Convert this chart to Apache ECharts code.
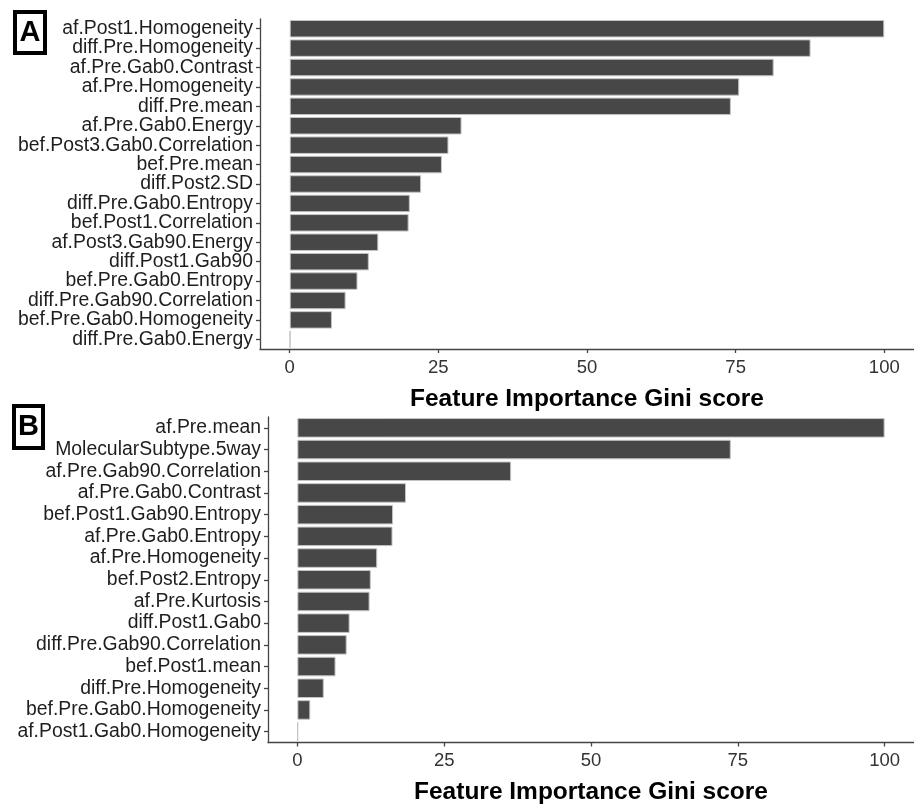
<!DOCTYPE html>
<html>
<head>
<meta charset="utf-8">
<script src="https://cdn.jsdelivr.net/npm/echarts@6/dist/echarts.min.js"></script>
<style>
html,body{margin:0;padding:0;background:#fff;}
#chart{width:914px;height:806px;}
</style>
</head>
<body>
<div id="chart"></div>
<script>
var categoriesA = ["af.Post1.Homogeneity","diff.Pre.Homogeneity","af.Pre.Gab0.Contrast","af.Pre.Homogeneity","diff.Pre.mean","af.Pre.Gab0.Energy","bef.Post3.Gab0.Correlation","bef.Pre.mean","diff.Post2.SD","diff.Pre.Gab0.Entropy","bef.Post1.Correlation","af.Post3.Gab90.Energy","diff.Post1.Gab90","bef.Pre.Gab0.Entropy","diff.Pre.Gab90.Correlation","bef.Pre.Gab0.Homogeneity","diff.Pre.Gab0.Energy"];
var valuesA = [100, 87.6, 81.4, 75.6, 74.2, 28.9, 26.7, 25.6, 22.1, 20.2, 20.0, 14.9, 13.3, 11.4, 9.4, 7.1, 0.1];
var categoriesB = ["af.Pre.mean","MolecularSubtype.5way","af.Pre.Gab90.Correlation","af.Pre.Gab0.Contrast","bef.Post1.Gab90.Entropy","af.Pre.Gab0.Entropy","af.Pre.Homogeneity","bef.Post2.Entropy","af.Pre.Kurtosis","diff.Post1.Gab0","diff.Pre.Gab90.Correlation","bef.Post1.mean","diff.Pre.Homogeneity","bef.Pre.Gab0.Homogeneity","af.Post1.Gab0.Homogeneity"];
var valuesB = [100, 73.8, 36.4, 18.5, 16.3, 16.2, 13.6, 12.5, 12.3, 8.9, 8.4, 6.5, 4.5, 2.2, 0.1];
var xTicks = [0, 25, 50, 75, 100];
var xTitle = "Feature Importance Gini score";

var font = "Liberation Sans, Arial, Helvetica, sans-serif";
var axisCol = "#444";

function xAxisDef(gi) {
  return {
    type: "value", gridIndex: gi, min: -5, max: 105,
    name: xTitle, nameLocation: "middle", nameGap: 50,
    nameTextStyle: {fontFamily: font, fontSize: 24.5, fontWeight: "bold", color: "#000", verticalAlign: "middle"},
    axisLine: {show: true, onZero: false, lineStyle: {color: axisCol, width: 1.3}},
    axisTick: {show: true, length: 4, customValues: xTicks, lineStyle: {color: axisCol, width: 1.3}},
    axisLabel: {customValues: xTicks, fontFamily: font, fontSize: 18.5, color: "#333", margin: 9},
    splitLine: {show: false}
  };
}
function yAxisDef(gi, cats) {
  return {
    type: "category", gridIndex: gi, data: cats, inverse: true,
    axisLine: {show: true, onZero: false, lineStyle: {color: axisCol, width: 1.3}},
    axisTick: {show: true, length: 4, alignWithLabel: true, lineStyle: {color: axisCol, width: 1.3}},
    axisLabel: {fontFamily: font, fontSize: 19.4, color: "#1e1e1e", margin: 7, interval: 0},
    splitLine: {show: false}
  };
}
function barSeries(gi, vals) {
  return {
    type: "bar", xAxisIndex: gi, yAxisIndex: gi, data: vals, barWidth: "90%",
    itemStyle: {color: "#474747", borderColor: "#c4c4c4", borderWidth: 1},
    silent: true, animation: false
  };
}

var chart = echarts.init(document.getElementById("chart"), null, {renderer: "canvas"});
chart.setOption({
  backgroundColor: "#fff",
  animation: false,
  grid: [
    {left: 260, top: 19, width: 658, height: 330},
    {left: 268, top: 417, width: 648, height: 331}
  ],
  xAxis: [xAxisDef(0), xAxisDef(1)],
  yAxis: [yAxisDef(0, categoriesA), yAxisDef(1, categoriesB)],
  series: [barSeries(0, valuesA), barSeries(1, valuesB)],
  graphic: [
    {type: "rect", shape: {x: 15, y: 12, width: 30, height: 41}, style: {fill: "#fff", stroke: "#000", lineWidth: 4}},
    {type: "text", x: 30, y: 33, style: {text: "A", font: "bold 29px " + font, fill: "#000", align: "center", verticalAlign: "middle"}},
    {type: "rect", shape: {x: 14, y: 406, width: 29, height: 42}, style: {fill: "#fff", stroke: "#000", lineWidth: 4}},
    {type: "text", x: 28.5, y: 427, style: {text: "B", font: "bold 29px " + font, fill: "#000", align: "center", verticalAlign: "middle"}}
  ]
});
</script>
</body>
</html>
